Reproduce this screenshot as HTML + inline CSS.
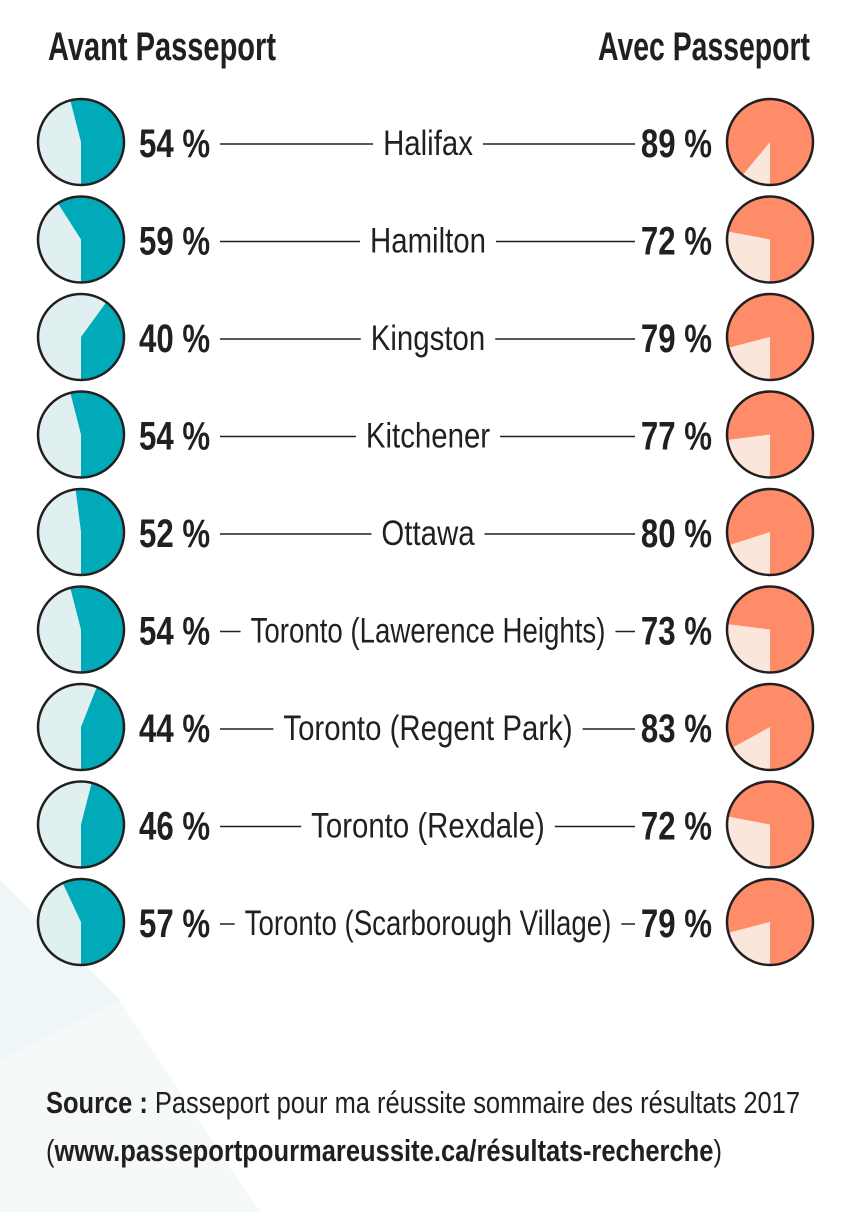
<!DOCTYPE html>
<html><head><meta charset="utf-8"><style>
body{margin:0;background:#fff}
svg{display:block}
</style></head><body>
<svg id="chart" width="864" height="1212" viewBox="0 0 864 1212" font-family="'Liberation Sans Narrow','Liberation Sans',sans-serif">
<polygon points="0,880 120,1000 0,1060" fill="#eef6f7"/>
<polygon points="0,1060 120,1000 260,1212 0,1212" fill="#f5f9fa"/>
<text x="48" y="60" font-size="40" font-weight="bold" fill="#231f20" textLength="228" lengthAdjust="spacingAndGlyphs">Avant Passeport</text>
<text x="810" y="60" font-size="40" font-weight="bold" fill="#231f20" text-anchor="end" textLength="212" lengthAdjust="spacingAndGlyphs">Avec Passeport</text>
<g id="rows"></g>
<text x="46" y="1113" font-size="31" fill="#231f20" textLength="754" lengthAdjust="spacingAndGlyphs"><tspan font-weight="bold">Source :</tspan> Passeport pour ma réussite sommaire des résultats 2017</text>
<text x="46" y="1161" font-size="31" fill="#231f20" textLength="676" lengthAdjust="spacingAndGlyphs">(<tspan font-weight="bold">www.passeportpourmareussite.ca/résultats-recherche</tspan>)</text>
</svg>
<script>
const cities=["Halifax","Hamilton","Kingston","Kitchener","Ottawa","Toronto (Lawerence Heights)","Toronto (Regent Park)","Toronto (Rexdale)","Toronto (Scarborough Village)"];
const before=[54,59,40,54,52,54,44,46,57];
const after=[89,72,79,77,80,73,83,72,79];
const NS="http://www.w3.org/2000/svg";
const g=document.getElementById('rows');
function rowY(i){return 142+i*97.5;}
function mk(tag,attrs){const e=document.createElementNS(NS,tag);for(const k in attrs)e.setAttribute(k,attrs[k]);g.appendChild(e);return e;}
function squeeze(t,f){let w=t.getComputedTextLength()*f;if(f<0.8&&false)w=w;return setW(t,w);}
function setW(t,w){t.setAttribute('textLength',w);t.setAttribute('lengthAdjust','spacingAndGlyphs');return w;}
function pie(cx,cy,r,pct,fill,bg,name){
  const c=mk('circle',{cx:cx,cy:cy,r:r,fill:bg});
  
  
  const a=Math.PI-pct/100*2*Math.PI;
  const x=cx+r*Math.sin(a), y=cy-r*Math.cos(a);
  const large=pct>50?1:0;
  const p=mk('path',{d:`M${cx},${cy} L${cx},${cy+r} A${r},${r} 0 ${large} 0 ${x},${y} Z`,fill:fill});
  
  
  const o=mk('circle',{cx:cx,cy:cy,r:r,fill:'none',stroke:'#231f20','stroke-width':2.5});
  
  
}
cities.forEach((c,i)=>{
  const y=rowY(i);
  pie(81,y,43,before[i],'#00aab8','#e0efef','before-pie');
  pie(770,y,43,after[i],'#ff8c69','#fbe6dc','after-pie');
  const t1=mk('text',{x:139,y:y+15,'font-size':40,'font-weight':'bold',fill:'#231f20'});
  t1.textContent=before[i]+' %';
  
  
  squeeze(t1,0.78);
  const t2=mk('text',{x:712,y:y+15,'font-size':40,'font-weight':'bold',fill:'#231f20','text-anchor':'end'});
  t2.textContent=after[i]+' %';
  
  
  squeeze(t2,0.78);
  const lb=mk('text',{x:428,y:y+13,'font-size':35,fill:'#231f20','text-anchor':'middle'});
  lb.textContent=c;
  
  
  let w=lb.getComputedTextLength()*0.84;
  if(w>300) w*=0.94;
  setW(lb,w);
  const l=428-w/2-10, r=428+w/2+10;
  const a=mk('line',{x1:220,x2:l,y1:y+2,y2:y+2,stroke:'#231f20','stroke-width':1.5});
  
  
  const b=mk('line',{x1:r,x2:635,y1:y+2,y2:y+2,stroke:'#231f20','stroke-width':1.5});
  
  
});
</script>
</body></html>
